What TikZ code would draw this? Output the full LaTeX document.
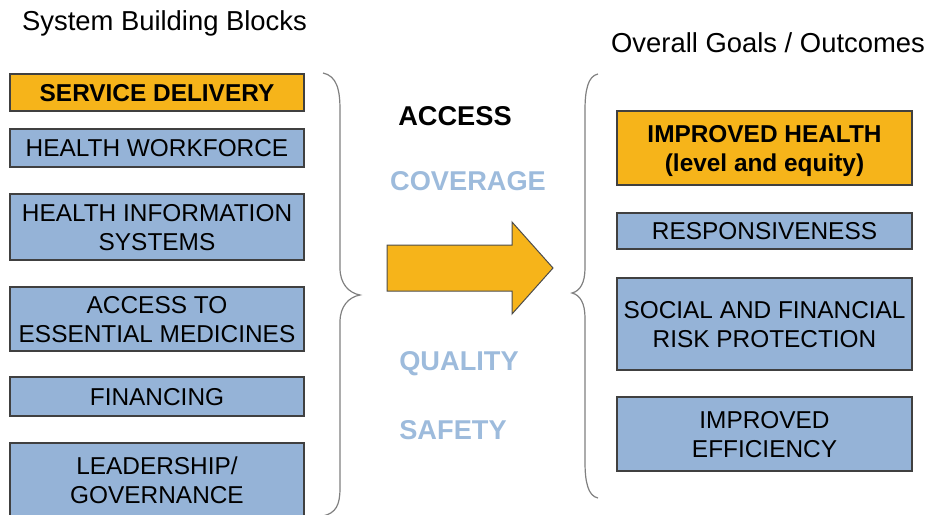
\documentclass[tikz,border=0pt]{standalone}
\usepackage{fontspec}
\setmainfont{Liberation Sans}
\usetikzlibrary{positioning}
\definecolor{boxorange}{RGB}{246,180,26}
\definecolor{boxblue}{RGB}{149,179,215}
\definecolor{wordblue}{RGB}{157,187,220}
\tikzstyle{block}=[rectangle,draw=black!75,line width=1.2pt,inner sep=0pt,text depth=0pt,align=center,font=\fontsize{24.4}{29}\selectfont]
\tikzstyle{bluebox}=[block,fill=boxblue]
\tikzstyle{orangebox}=[block,fill=boxorange,font=\fontsize{24.4}{29}\selectfont\bfseries]
\tikzstyle{bigword}=[font=\fontsize{27.2}{32}\selectfont\bfseries]
\tikzstyle{heading}=[font=\fontsize{27.4}{32}\selectfont]
\tikzstyle{brace}=[draw=black!50,line width=1.2pt]

\begin{document}
\begin{tikzpicture}[x=1pt,y=-1pt]

    \useasboundingbox (0,0) rectangle (928,514);
    \clip (0,0) rectangle (928,514);

    % Headings
    \node[heading] (blocks) at (164.5,23) {System Building Blocks};
    \node[heading] (goals) at (768,43) {Overall Goals / Outcomes};

    % First we draw the building blocks
    \node[orangebox, minimum width=294pt, minimum height=37pt] (sd) at (157,92.5) {SERVICE DELIVERY};
    \foreach \pos/\name/\label/\h in {{(157,148)/hw/HEALTH WORKFORCE/38}, {(157,227)/his/{HEALTH INFORMATION\\SYSTEMS}/66}, {(157,319)/aem/{ACCESS TO\\ESSENTIAL MEDICINES}/64}, {(157,396.5)/fin/FINANCING/39}, {(157,480)/lg/{LEADERSHIP/\\GOVERNANCE}/74}}
        \node[bluebox, minimum width=294pt, minimum height=\h pt] (\name) at \pos {\label};

    % Then the goals
    \node[orangebox, minimum width=295pt, minimum height=74pt] (ih) at (764.5,148) {IMPROVED HEALTH\\(level and equity)};
    \foreach \pos/\name/\label/\h in {{(764.5,231)/resp/RESPONSIVENESS/36}, {(764.5,324)/risk/{SOCIAL AND FINANCIAL\\RISK PROTECTION}/92}, {(764.5,434)/eff/{IMPROVED\\EFFICIENCY}/74}}
        \node[bluebox, minimum width=295pt, minimum height=\h pt] (\name) at \pos {\label};

    % Braces
    \path[brace] (323,73) .. controls (337,76) and (340,90) .. (340,110) -- (340,268)
        .. controls (340,284) and (349,293) .. (360,295) .. controls (349,297) and (340,306) .. (340,322)
        -- (340,488) .. controls (340,505) and (336,513) .. (323,516);
    \path[brace] (598,74) .. controls (588,76) and (585,90) .. (585,110) -- (585,268)
        .. controls (585,283) and (580,291) .. (572,293) .. controls (580,295) and (585,303) .. (585,318)
        -- (585,462) .. controls (585,482) and (588,496) .. (598,498);

    % Arrow
    \path[draw=black!70, line width=1pt, fill=boxorange] (387,245) -- (512,245) -- (512,222) -- (553,268)
        -- (512,314) -- (512,291) -- (387,291) -- cycle;

    % Words between
    \node[bigword] (access) at (455,116) {ACCESS};
    \foreach \pos/\name/\label in {{(468,181)/cov/COVERAGE}, {(459,364)/qual/QUALITY}, {(453,430)/safe/SAFETY}}
        \node[bigword, text=wordblue] (\name) at \pos {\label};

\end{tikzpicture}
\end{document}
